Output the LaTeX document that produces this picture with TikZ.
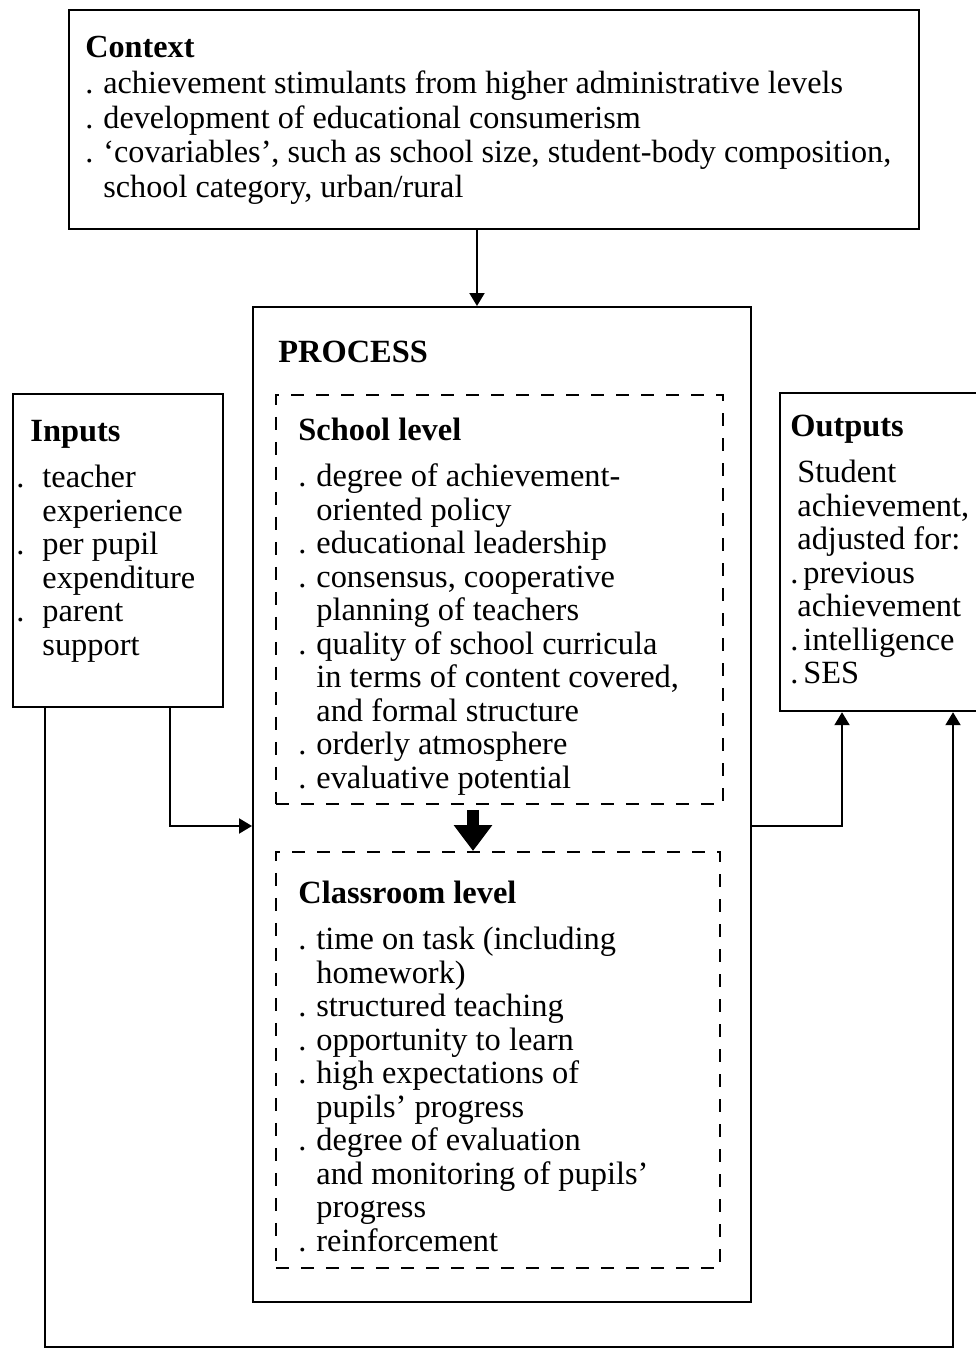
\documentclass[tikz,border=0pt]{standalone}
\usepackage{fontspec}
\setmainfont{Liberation Serif}
\usetikzlibrary{arrows.meta, positioning}
\tikzstyle{frame} = [rectangle, line width=1.1pt, draw=black, anchor=north west, inner sep=0pt]
\tikzstyle{level} = [rectangle, line width=0.9pt, draw=black, dash pattern=on 6.5pt off 6pt, anchor=north west, inner sep=0pt]
\tikzstyle{txt} = [anchor=north west, align=left, inner sep=0pt, font=\fontsize{16.2}{16.75}\selectfont]
\tikzstyle{arrow} = [line width=1pt, -{Triangle[length=6.5pt, width=7.5pt]}]
\tikzstyle{bigarrow} = [line width=6pt, -{Triangle[length=13pt, width=18.5pt]}]
\newcommand{\itemdot}[1][9pt]{\makebox[#1][l]{.}}
\newcommand{\itemgap}[1][9pt]{\hspace*{#1}}
\newcommand{\topline}{\rule{0pt}{12pt}}

\begin{document}
\begin{tikzpicture}[x=0.5pt, y=-0.5pt]
	\useasboundingbox (0,0) rectangle (975,1349);
	\node (Context) [frame, minimum width=425pt, minimum height=109.5pt] at (68,9) {};
	\node (Process) [frame, minimum width=249pt, minimum height=497.5pt] at (252,306) {};
	\node (Inputs) [frame, minimum width=105pt, minimum height=156.5pt] at (12,393) {};
	\node (Outputs) [frame, minimum width=115pt, minimum height=159pt] at (779,392) {};
	\node (SchoolLevel) [level, minimum width=223.5pt, minimum height=204.5pt] at (275,394) {};
	\node (ClassroomLevel) [level, minimum width=222pt, minimum height=208pt] at (275,851) {};
	\node (ContextText) [txt, font=\fontsize{16.1}{17.2}\selectfont] at (85,33) {\topline\textbf{Context}\\[1pt]
		\itemdot achievement stimulants from higher administrative levels\\
		\itemdot development of educational consumerism\\
		\itemdot `covariables', such as school size, student-body composition,\\
		\itemgap school category, urban/rural};
	\node (ProcessTitle) [txt] at (278,338) {\topline\textbf{PROCESS}};
	\node (SchoolText) [txt] at (298,416) {\topline\textbf{School level}\\[6.3pt]
		\itemdot degree of achievement-\\
		\itemgap oriented policy\\
		\itemdot educational leadership\\
		\itemdot consensus, cooperative\\
		\itemgap planning of teachers\\
		\itemdot quality of school curricula\\
		\itemgap in terms of content covered,\\
		\itemgap and formal structure\\
		\itemdot orderly atmosphere\\
		\itemdot evaluative potential};
	\node (ClassroomText) [txt] at (298,879) {\topline\textbf{Classroom level}\\[6.3pt]
		\itemdot time on task (including\\
		\itemgap homework)\\
		\itemdot structured teaching\\
		\itemdot opportunity to learn\\
		\itemdot high expectations of\\
		\itemgap pupils' progress\\
		\itemdot degree of evaluation\\
		\itemgap and monitoring of pupils'\\
		\itemgap progress\\
		\itemdot reinforcement};
	\node (InputsText) [txt] at (16,417) {\topline\hspace*{7pt}\textbf{Inputs}\\[6.3pt]
		\itemdot[13pt]teacher\\
		\itemgap[13pt]experience\\
		\itemdot[13pt]per pupil\\
		\itemgap[13pt]expenditure\\
		\itemdot[13pt]parent\\
		\itemgap[13pt]support};
	\node (OutputsText) [txt] at (790,412) {\topline\textbf{Outputs}\\[6.3pt]
		\itemgap[3.5pt]Student\\
		\itemgap[3.5pt]achievement,\\
		\itemgap[3.5pt]adjusted for:\\
		\itemdot[6.5pt]previous\\
		\itemgap[3.5pt]achievement\\
		\itemdot[6.5pt]intelligence\\
		\itemdot[6.5pt]SES};
	\coordinate (CtxDrop) at (477,0);
	\coordinate (InTurn) at (170,826);
	\coordinate (OutTurn) at (842,826);
	\coordinate (LoopLeft) at (45,1347);
	\coordinate (LoopRight) at (953,1347);
	\coordinate (StepDown) at (473,0);
	\draw [arrow] (Context.south -| CtxDrop) -- (Process.north -| CtxDrop);
	\draw [arrow] (Inputs.south -| InTurn) |- (Process.west |- InTurn);
	\draw [arrow] (Process.east |- OutTurn) -| (Outputs.south -| OutTurn);
	\draw [arrow] (Inputs.south -| LoopLeft) -- (LoopLeft) -- (LoopRight) -- (Outputs.south -| LoopRight);
	\draw [bigarrow, shorten <=2.5pt] (SchoolLevel.south -| StepDown) -- (ClassroomLevel.north -| StepDown);
\end{tikzpicture}
\end{document}
